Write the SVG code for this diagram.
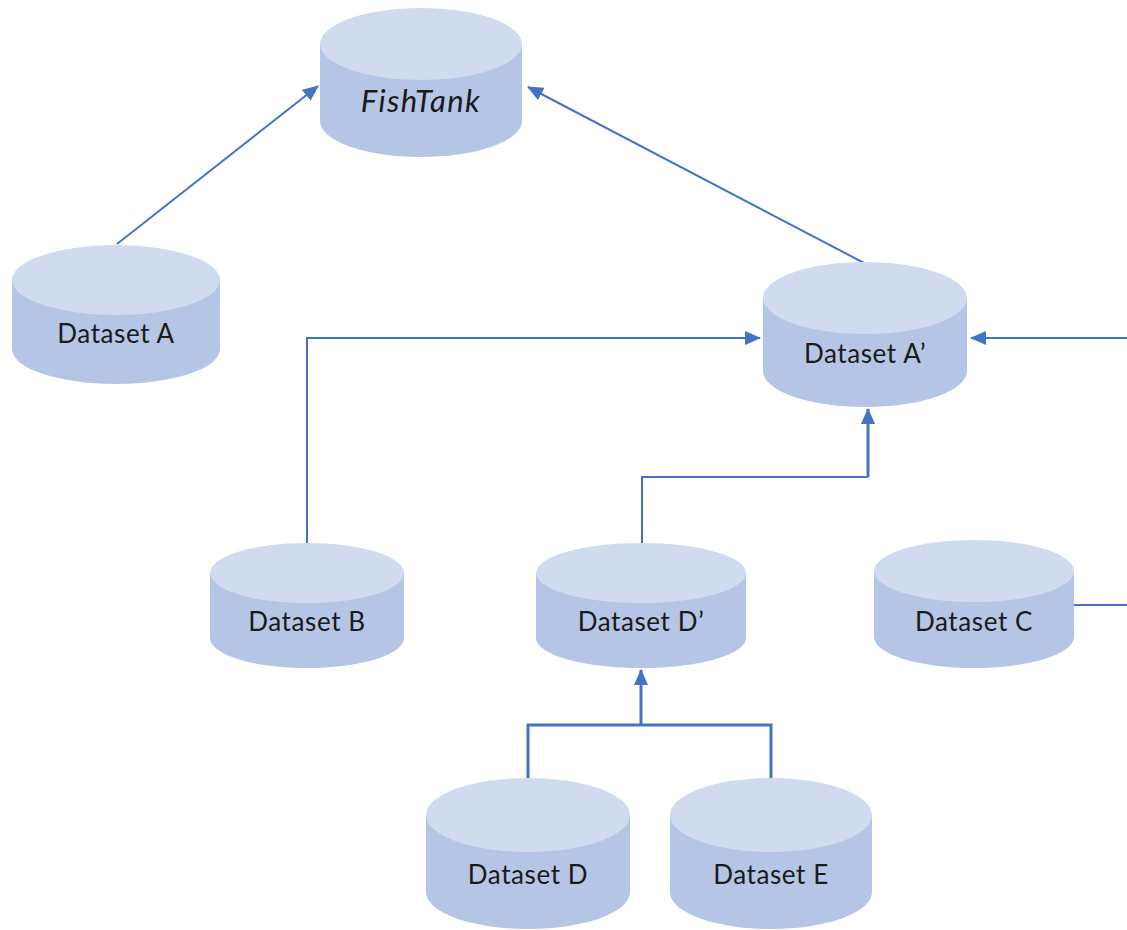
<svg xmlns="http://www.w3.org/2000/svg" width="1127" height="930" viewBox="0 0 1127 930">
  <defs>
    <style>
      .top { fill: #D0DBEF; }
      .side { fill: #B4C5E6; }
      .lbl { font-family: Lato, "Open Sans", "Liberation Sans", sans-serif; font-size: 26px; letter-spacing: 0.6px; fill: #1a1a1a; text-anchor: middle; }
      .it { font-style: italic; font-size: 31px; letter-spacing: 1.4px; }
      .conn { fill: none; stroke: #4472C4; stroke-width: 2; }
      .thick { stroke-width: 3; }
    </style>
    <marker id="arrow" viewBox="0 0 16 14" refX="15" refY="7" markerWidth="16" markerHeight="14" markerUnits="userSpaceOnUse" orient="auto">
      <path d="M0,0 L16,7 L0,14 Z" fill="#4472C4"/>
    </marker>
  </defs>

  <!-- connectors -->
  <g id="connectors">
    <path class="conn" d="M117,244 L318,86" marker-end="url(#arrow)"/>
    <path class="conn" d="M866,264 L528,87" marker-end="url(#arrow)"/>
    <path class="conn" d="M307,543 V338 H760" marker-end="url(#arrow)"/>
    <path class="conn" d="M1074,605 H1140 V338 H971" marker-end="url(#arrow)"/>
    <path class="conn" d="M642,543 V477 H868" />
    <path class="conn thick" d="M868,477 V409" marker-end="url(#arrow)"/>
    <path class="conn thick" d="M528,778 V725 H771 V778"/>
    <path class="conn thick" d="M641,725 V670" marker-end="url(#arrow)"/>
  </g>

  <!-- FishTank -->
  <g id="node-fishtank">
    <path class="side" d="M320,44 V121 A101,36 0 0 0 522,121 V44 Z"/>
    <ellipse class="top" cx="421" cy="44" rx="101" ry="36"/>
    <text class="lbl it" x="421" y="112">FishTank</text>
  </g>

  <!-- Dataset A -->
  <g id="node-dataset-a">
    <path class="side" d="M12,280 V349 A104,35 0 0 0 220,349 V280 Z"/>
    <ellipse class="top" cx="116" cy="280" rx="104" ry="35"/>
    <text class="lbl" x="116" y="343">Dataset A</text>
  </g>

  <!-- Dataset A' -->
  <g id="node-dataset-a-prime">
    <path class="side" d="M763,298 V371 A102,36 0 0 0 967,371 V298 Z"/>
    <ellipse class="top" cx="865" cy="298" rx="102" ry="36"/>
    <text class="lbl" x="865" y="363">Dataset A’</text>
  </g>

  <!-- Dataset B -->
  <g id="node-dataset-b">
    <path class="side" d="M210,573 V638 A97,30 0 0 0 404,638 V573 Z"/>
    <ellipse class="top" cx="307" cy="573" rx="97" ry="30"/>
    <text class="lbl" x="307" y="631">Dataset B</text>
  </g>

  <!-- Dataset D' -->
  <g id="node-dataset-d-prime">
    <path class="side" d="M536,573 V638 A105,30 0 0 0 746,638 V573 Z"/>
    <ellipse class="top" cx="641" cy="573" rx="105" ry="30"/>
    <text class="lbl" x="641" y="631">Dataset D’</text>
  </g>

  <!-- Dataset C -->
  <g id="node-dataset-c">
    <path class="side" d="M874,571 V637 A100,31 0 0 0 1074,637 V571 Z"/>
    <ellipse class="top" cx="974" cy="571" rx="100" ry="31"/>
    <text class="lbl" x="974" y="631">Dataset C</text>
  </g>

  <!-- Dataset D -->
  <g id="node-dataset-d">
    <path class="side" d="M426,815 V892 A102,37 0 0 0 630,892 V815 Z"/>
    <ellipse class="top" cx="528" cy="815" rx="102" ry="37"/>
    <text class="lbl" x="528" y="884">Dataset D</text>
  </g>

  <!-- Dataset E -->
  <g id="node-dataset-e">
    <path class="side" d="M670,815 V892 A101,37 0 0 0 872,892 V815 Z"/>
    <ellipse class="top" cx="771" cy="815" rx="101" ry="37"/>
    <text class="lbl" x="771" y="884">Dataset E</text>
  </g>
</svg>
